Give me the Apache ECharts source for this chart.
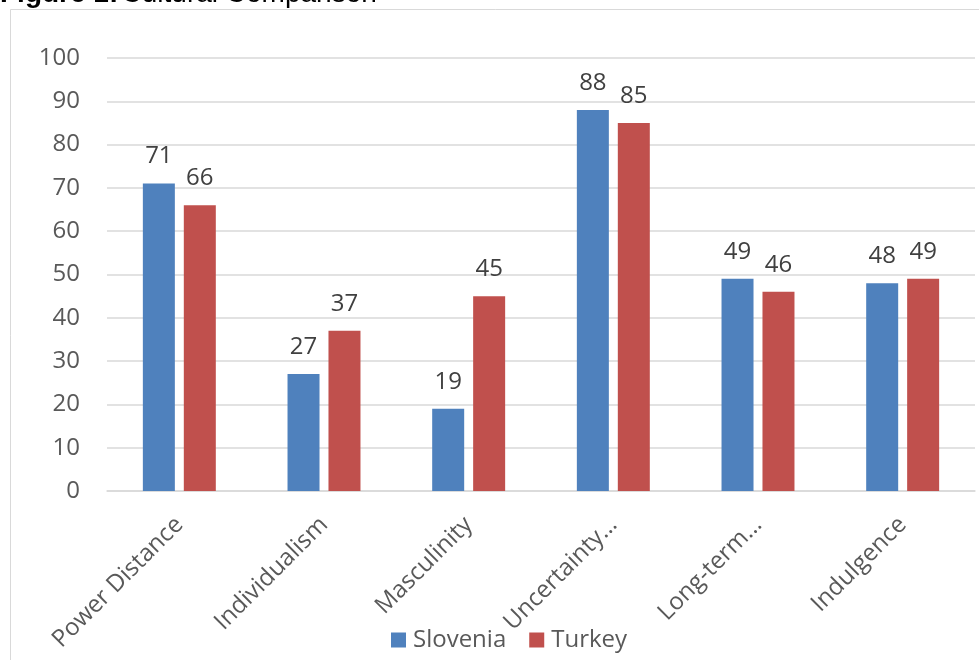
<!DOCTYPE html>
<html><head><meta charset="utf-8">
<script src="https://cdn.jsdelivr.net/npm/echarts@6/dist/echarts.min.js"></script>
<style>html,body{margin:0;padding:0;background:#fff}#c{width:979px;height:660px}</style>
</head><body><div id="c"></div>
<script>
var categories = ["Power Distance","Individualism","Masculinity","Uncertainty…","Long-term…","Indulgence"];
var slovenia = [71,27,19,88,49,48];
var turkey = [66,37,45,85,46,49];
var yTicks = [0,10,20,30,40,50,60,70,80,90,100];

var chart = echarts.init(document.getElementById('c'), null, {renderer:'canvas'});
var font = '"Liberation Sans", Arial, sans-serif';
var labelFont = '"Open Sans", "Liberation Sans", sans-serif';
chart.setOption({
  animation:false,
  backgroundColor:'#fff',
  graphic:[
    {type:'rect', shape:{x:10.5,y:9.5,width:1000,height:700}, style:{fill:'none',stroke:'#d9d9d9',lineWidth:1}},
    {type:'text', left:0, top:-20, style:{
      rich:{b:{fontWeight:'bold',fontSize:28,fontFamily:font,fill:'#000'},n:{fontSize:28,fontFamily:font,fill:'#000'}},
      text:'{b|Figure 1:} {n|Cultural Comparison}'}}
  ],
  grid:{left:107, right:4, top:58, bottom:169, containLabel:false},
  legend:{top:623, left:386, itemWidth:15, itemHeight:15, itemGap:23,
    icon:'rect', textStyle:{fontSize:24,color:'#595959',fontFamily:labelFont,padding:[0,0,0,2]},
    data:['Slovenia','Turkey']},
  xAxis:{type:'category', data:categories,
    axisLine:{lineStyle:{color:'#d9d9d9',width:1.5}},
    axisTick:{show:false},
    axisLabel:{rotate:45, fontSize:24, color:'#595959', fontFamily:labelFont, margin:30, interval:0}},
  yAxis:{type:'value', min:0, max:100, interval:10,
    axisLine:{show:false}, axisTick:{show:false},
    splitLine:{lineStyle:{color:'#d9d9d9',width:1.5}},
    axisLabel:{fontSize:24,color:'#595959',fontFamily:labelFont,margin:27,
      formatter:function(v){return yTicks.indexOf(v)>=0?String(v):'';}}},
  series:[
    {name:'Slovenia', type:'bar', data:slovenia, barWidth:32, barGap:'28%',
     itemStyle:{color:'#4f81bd'},
     label:{show:true, position:'top', distance:15, fontSize:24, color:'#404040', fontFamily:labelFont}},
    {name:'Turkey', type:'bar', data:turkey, barWidth:32, barGap:'28%',
     itemStyle:{color:'#c0504d'},
     label:{show:true, position:'top', distance:15, fontSize:24, color:'#404040', fontFamily:labelFont}}
  ]
});
</script></body></html>
